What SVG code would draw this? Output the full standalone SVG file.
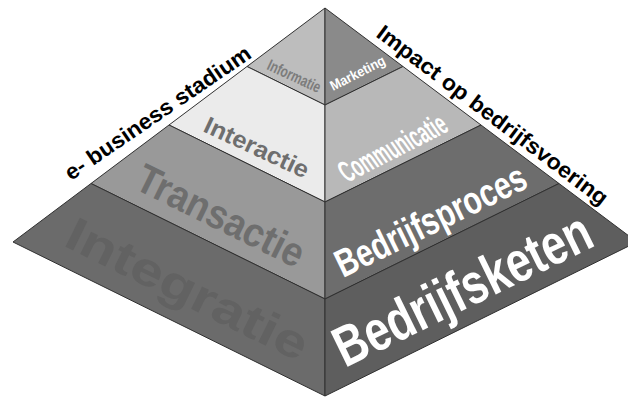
<svg xmlns="http://www.w3.org/2000/svg" width="628" height="399" viewBox="0 0 628 399">
  <style>
    .face { stroke: #303030; stroke-width: 1; stroke-linejoin: round; }
    .lbl { font-family: "Liberation Sans", Arial, sans-serif; font-weight: bold; }
    .edge { font-family: "Liberation Sans", Arial, sans-serif; font-weight: bold; font-size: 22px; fill: #000; }
    .w { fill: #ffffff; }
  </style>
  <rect width="628" height="399" fill="#ffffff"/>

  <!-- left half: e-business stages -->
  <g id="informatie">
    <polygon class="face" points="325,8 247,66.5 325,105" fill="#bdbdbd"/>
    <text class="lbl" font-size="16" fill="#7c7c7c" textLength="57" lengthAdjust="spacingAndGlyphs" transform="translate(266,69) rotate(25)">Informatie</text>
  </g>
  <g id="interactie">
    <polygon class="face" points="247,66.5 169,125 325,202 325,105" fill="#ebebeb"/>
    <text class="lbl" font-size="24" fill="#6e6e6e" textLength="113" lengthAdjust="spacingAndGlyphs" transform="translate(202,131) rotate(25)">Interactie</text>
  </g>
  <g id="transactie">
    <polygon class="face" points="169,125 91,183.5 325,299 325,202" fill="#999999"/>
    <text class="lbl" font-size="41" fill="#6e6e6e" textLength="182" lengthAdjust="spacingAndGlyphs" transform="translate(133,188) rotate(26.3)">Transactie</text>
  </g>
  <g id="integratie">
    <polygon class="face" points="91,183.5 13,242 325,396 325,299" fill="#6b6b6b"/>
    <text class="lbl" font-size="47" fill="#626262" textLength="264" lengthAdjust="spacingAndGlyphs" transform="translate(62,245) rotate(26.3)">Integratie</text>
  </g>

  <!-- right half: impact on the business -->
  <g id="marketing">
    <polygon class="face" points="325,8 325,105 403,66.5" fill="#8a8a8a"/>
    <text class="lbl w" font-size="14" textLength="60" lengthAdjust="spacingAndGlyphs" transform="translate(333,91) rotate(-27)">Marketing</text>
  </g>
  <g id="communicatie">
    <polygon class="face" points="403,66.5 325,105 325,202 481,125" fill="#b8b8b8"/>
    <text class="lbl w" font-size="31" textLength="116" lengthAdjust="spacingAndGlyphs" transform="translate(347,183) rotate(-27) skewX(8)">Communicatie</text>
  </g>
  <g id="bedrijfsproces">
    <polygon class="face" points="481,125 325,202 325,299 559,183.5" fill="#6d6d6d"/>
    <text class="lbl w" font-size="39" textLength="208" lengthAdjust="spacingAndGlyphs" transform="translate(343,278) rotate(-26)">Bedrijfsproces</text>
  </g>
  <g id="bedrijfsketen">
    <polygon class="face" points="559,183.5 325,299 325,396 637,242" fill="#5e5e5e"/>
    <text class="lbl w" font-size="57" textLength="280" lengthAdjust="spacingAndGlyphs" transform="translate(345,368) rotate(-26)">Bedrijfsketen</text>
  </g>

  <!-- axis titles along the two upper edges -->
  <g id="axis-left">
    <text class="edge" textLength="220" lengthAdjust="spacingAndGlyphs" transform="translate(71,181) rotate(-34.3)">e- business stadium</text>
  </g>
  <g id="axis-right">
    <text class="edge" textLength="283" lengthAdjust="spacingAndGlyphs" transform="translate(375,36) rotate(37)">Impact op bedrijfsvoering</text>
  </g>
</svg>
